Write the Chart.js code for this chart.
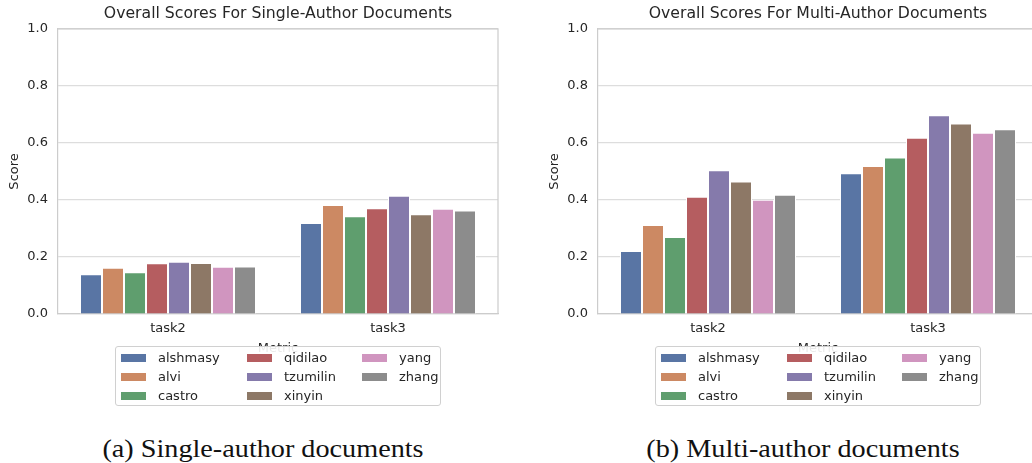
<!DOCTYPE html>
<html>
<head>
<meta charset="utf-8">
<script src="https://cdn.jsdelivr.net/npm/chart.js@4.4.1/dist/chart.umd.min.js"></script>
<style>
  html, body { margin: 0; padding: 0; background: #ffffff; }
  body { width: 1032px; height: 463px; overflow: hidden; position: relative; }
  .wrap { position: absolute; top: 0; width: 510px; height: 360px; }
  .legend { position: absolute; top: 346px; width: 326px; height: 60px; background: rgba(255,255,255,0.9);
            border: 1px solid #d0d0d0; border-radius: 3px; box-sizing: border-box;
            font-family: "DejaVu Sans", sans-serif; font-size: 13px; color: #262626; }
  .item { position: absolute; height: 16px; line-height: 16px; white-space: nowrap; }
  .sw { position: absolute; left: 0; top: 4px; width: 25px; height: 8px; }
  .lbl { position: absolute; left: 37px; top: 0; }
  .caption { position: absolute; top: 434px; font-family: "Liberation Serif", "DejaVu Serif", serif;
             font-size: 26px; color: #111111; white-space: nowrap; transform: translateX(-50%) scaleX(1.085); }
</style>
</head>
<body>
<div class="wrap" id="w1" style="left:0px"><canvas id="c1"></canvas></div>
<div class="wrap" id="w2" style="left:540px"><canvas id="c2"></canvas></div>
<div class="legend" id="lg1" style="left:115px"></div>
<div class="legend" id="lg2" style="left:655px"></div>
<div class="caption" style="left:263px">(a) Single-author documents</div>
<div class="caption" style="left:803px">(b) Multi-author documents</div>
<script>
const categories = ["task2", "task3"];
const teams = ["alshmasy", "alvi", "castro", "qidilao", "tzumilin", "xinyin", "yang", "zhang"];
const colors = ["#5975A4", "#CC8963", "#5F9E6E", "#B55D60", "#857AAB", "#8D7866", "#D095BF", "#8C8C8C"];

// Single-author scores: [task2, task3] per team
const singleAlshmasy = [0.139, 0.319];
const singleAlvi     = [0.162, 0.382];
const singleCastro   = [0.146, 0.343];
const singleQidilao  = [0.178, 0.371];
const singleTzumilin = [0.183, 0.415];
const singleXinyin   = [0.179, 0.350];
const singleYang     = [0.166, 0.369];
const singleZhang    = [0.167, 0.363];

// Multi-author scores: [task2, task3] per team
const multiAlshmasy = [0.221, 0.494];
const multiAlvi     = [0.312, 0.519];
const multiCastro   = [0.270, 0.549];
const multiQidilao  = [0.411, 0.618];
const multiTzumilin = [0.504, 0.697];
const multiXinyin   = [0.465, 0.668];
const multiYang     = [0.401, 0.636];
const multiZhang    = [0.418, 0.648];

const yTicks = [0.0, 0.2, 0.4, 0.6, 0.8, 1.0];

const singleSeries = [singleAlshmasy, singleAlvi, singleCastro, singleQidilao, singleTzumilin, singleXinyin, singleYang, singleZhang];
const multiSeries  = [multiAlshmasy, multiAlvi, multiCastro, multiQidilao, multiTzumilin, multiXinyin, multiYang, multiZhang];

const FONT = "'DejaVu Sans', sans-serif";
const TXT = "#262626";

function makeChart(canvasId, title, series) {
  const ctx = document.getElementById(canvasId);
  return new Chart(ctx, {
    type: 'bar',
    data: {
      labels: categories,
      datasets: series.map((vals, i) => ({
        label: teams[i],
        data: vals,
        backgroundColor: colors[i],
        borderColor: '#ffffff',
        borderWidth: 1,
        borderSkipped: 'bottom',
        categoryPercentage: 0.8,
        barPercentage: 1.0
      }))
    },
    options: {
      responsive: true,
      maintainAspectRatio: false,
      animation: false,
      layout: { padding: { left: 0, right: 12, top: 0, bottom: 0 } },
      plugins: {
        legend: { display: false },
        tooltip: { enabled: false },
        title: {
          display: true, text: title, fullSize: false,
          color: TXT, font: { family: FONT, size: 15.7, weight: 'normal' },
          padding: { top: 5, bottom: 5 }
        }
      },
      scales: {
        x: {
          grid: { display: false, drawTicks: false },
          border: { display: true, color: '#cccccc', width: 1.2 },
          ticks: { color: TXT, font: { family: FONT, size: 13 }, padding: 7 },
          title: { display: true, text: 'Metric', color: TXT, font: { family: FONT, size: 13 }, padding: { top: 4, bottom: 4 } },
          afterFit: s => { s.height = 46; }
        },
        y: {
          min: 0, max: 1,
          afterBuildTicks: s => { s.ticks = yTicks.map(v => ({ value: v })); },
          grid: { color: '#dddddd', lineWidth: 1.2, drawTicks: false },
          border: { display: true, color: '#cccccc', width: 1.2 },
          ticks: { color: TXT, font: { family: FONT, size: 13 }, padding: 10, callback: v => Number(v).toFixed(1) },
          title: { display: true, text: 'Score', color: TXT, font: { family: FONT, size: 13 }, padding: { top: 7, bottom: 4 } },
          afterFit: s => { s.width = 58; }
        }
      }
    },
    plugins: [{
      id: 'frame',
      afterDatasetsDraw(chart) {
        const a = chart.chartArea, c = chart.ctx;
        c.save();
        c.strokeStyle = '#cccccc'; c.lineWidth = 1.2;
        c.beginPath();
        c.moveTo(a.left, a.top); c.lineTo(a.right, a.top); c.lineTo(a.right, a.bottom);
        c.stroke();
        c.restore();
      }
    }]
  });
}

makeChart('c1', 'Overall Scores For Single-Author Documents', singleSeries);
makeChart('c2', 'Overall Scores For Multi-Author Documents', multiSeries);

function buildLegend(id) {
  const el = document.getElementById(id);
  const colX = [5, 131, 246];
  const rowY = [3, 22, 41];
  teams.forEach((t, i) => {
    const col = Math.floor(i / 3), row = i % 3;
    const it = document.createElement('div');
    it.className = 'item';
    it.style.left = colX[col] + 'px';
    it.style.top = rowY[row] + 'px';
    const sw = document.createElement('div');
    sw.className = 'sw'; sw.style.background = colors[i];
    const lb = document.createElement('div');
    lb.className = 'lbl'; lb.textContent = t;
    it.appendChild(sw); it.appendChild(lb);
    el.appendChild(it);
  });
}
buildLegend('lg1');
buildLegend('lg2');
</script>
</body>
</html>
